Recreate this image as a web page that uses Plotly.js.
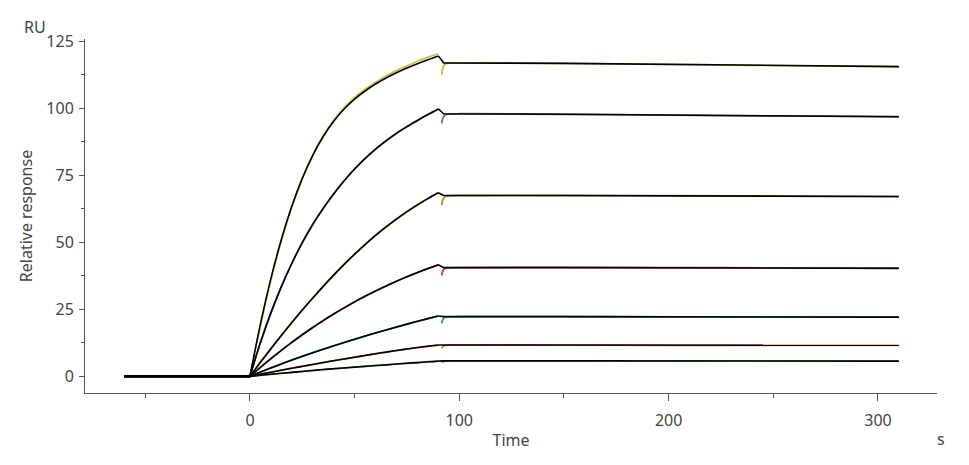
<!DOCTYPE html>
<html>
<head>
<meta charset="utf-8">
<script src="https://cdn.plot.ly/plotly-3.0.1.min.js"></script>
<style>html,body{margin:0;padding:0;background:#fff;}#chart{width:969px;height:465px;}</style>
</head>
<body>
<div id="chart"></div>
<script>
// Series colours (data curves), highest concentration first
const seriesColors = ['#c9c23e', '#7b5ea7', '#a68f2e', '#cf3f6e', '#2a9a72', '#e8704a', '#5cb85c'];

// Baseline times
const tBase = [-60, 0];

// Association phase times (s)
const tAssoc = [0, 5, 10, 15, 20, 25, 30, 35, 40, 45, 50, 55, 60, 65, 70, 75, 80, 85, 90];
const assocFit = [
  [0, 19.5, 36.5, 51.1, 63.5, 73.9, 82.5, 89.5, 95.2, 99.8, 103.5, 106.5, 109.1, 111.35, 113.3, 115.05, 116.65, 118.15, 119.6],
  [0, 12.6, 23.7, 33.5, 42.2, 49.9, 56.7, 62.7, 68.1, 73.0, 77.4, 81.3, 84.8, 87.9, 90.7, 93.2, 95.5, 97.7, 99.8],
  [0, 5.25, 10.35, 15.3, 20.1, 24.75, 29.25, 33.6, 37.8, 41.8, 45.6, 49.2, 52.6, 55.75, 58.7, 61.45, 64.0, 66.35, 68.5],
  [0, 3.36, 6.6, 9.72, 12.69, 15.53, 18.24, 20.81, 23.26, 25.58, 27.79, 29.88, 31.86, 33.73, 35.5, 37.17, 38.75, 40.23, 41.64],
  [0, 1.6, 3.15, 4.65, 6.1, 7.5, 8.85, 10.15, 11.4, 12.65, 13.85, 15.05, 16.2, 17.3, 18.4, 19.5, 20.55, 21.55, 22.55],
  [0, 0.8, 1.55, 2.3, 3.05, 3.75, 4.45, 5.15, 5.85, 6.5, 7.15, 7.8, 8.45, 9.05, 9.65, 10.2, 10.75, 11.25, 11.7],
  [0, 0.4, 0.8, 1.15, 1.5, 1.85, 2.2, 2.55, 2.85, 3.15, 3.45, 3.75, 4.05, 4.3, 4.6, 4.9, 5.15, 5.45, 5.7]
];
// Measured association curve of the top series (sits a little off its fit)
const yellowAssoc = [0, 19, 36, 50.6, 63.2, 73.8, 82.6, 89.8, 95.6, 100.3, 104.1, 107.2, 109.8, 112.1, 114.1, 115.9, 117.6, 119.1, 120.4];
// the other measured curves lie on their fits
const assocData = [yellowAssoc].concat(assocFit.slice(1));

// Dissociation phase (fit)
const tDissFit = [90, 92.5, 150, 200, 250, 310];
const dissFit = [
  [119.6, 117, 116.8, 116.4, 116.0, 115.6],
  [99.8, 98.0, 97.8, 97.5, 97.2, 96.9],
  [68.5, 67.5, 67.5, 67.4, 67.3, 67.1],
  [41.64, 40.6, 40.6, 40.5, 40.4, 40.3],
  [22.55, 22.3, 22.3, 22.2, 22.2, 22.1],
  [11.7, 11.7, 11.7, 11.6, 11.6, 11.6],
  [5.7, 5.8, 5.8, 5.8, 5.75, 5.7]
];

// Dissociation phase (measured data)
const tDissData = [91.6, 92, 92.6, 93.5, 95, 100, 150, 200, 250, 310];
const dissData = [
  [112.5, 114.5, 115.9, 116.6, 116.9, 117, 116.8, 116.4, 116.0, 115.6],
  [94.4, 96.0, 97.1, 97.7, 97.9, 98, 97.8, 97.5, 97.2, 96.9],
  [63.9, 65.5, 66.6, 67.2, 67.4, 67.5, 67.5, 67.4, 67.3, 67.1],
  [37.6, 39.0, 39.9, 40.4, 40.5, 40.6, 40.7, 40.6, 40.5, 40.4],
  [19.8, 21.0, 21.8, 22.1, 22.2, 22.3, 22.3, 22.2, 22.2, 22.1],
  [10.4, 11.0, 11.4, 11.6, 11.7, 11.7, 11.7, 11.6, 11.6, 11.6],
  [5.1, 5.4, 5.6, 5.7, 5.8, 5.8, 5.8, 5.8, 5.75, 5.7]
];

// Axis ticks
const xTickVals = [0, 100, 200, 300];
const xMinorVals = [-50, 50, 150, 250];
const yTickVals = [0, 25, 50, 75, 100, 125];
const yMinorVals = [12.5, 37.5, 62.5, 87.5, 112.5];

const traces = [];
const zeros = tBase.map(() => 0);
// data curves first
seriesColors.forEach((c, i) => {
  traces.push({x: tBase, y: zeros, mode: 'lines', line: {color: c, width: 1.8}, hoverinfo: 'skip', showlegend: false});
  traces.push({x: tAssoc, y: assocData[i], mode: 'lines', line: {color: c, width: 1.8, shape: 'spline', smoothing: 1}, showlegend: false});
  traces.push({x: tDissData, y: dissData[i], mode: 'lines', line: {color: c, width: 1.8, shape: 'spline', smoothing: 0.8}, showlegend: false});
});
// fitted curves on top
assocFit.forEach((row, i) => {
  traces.push({x: tBase, y: zeros, mode: 'lines', line: {color: '#000', width: 1.7}, hoverinfo: 'skip', showlegend: false});
  traces.push({x: tAssoc, y: row, mode: 'lines', line: {color: '#000', width: 1.6, shape: 'spline', smoothing: 1}, showlegend: false});
  traces.push({x: tDissFit, y: dissFit[i], mode: 'lines', line: {color: '#000', width: 1.6}, showlegend: false});
});

const axisFont = {family: 'Noto Sans, sans-serif', size: 16, color: '#444'};
const layout = {
  width: 969, height: 465,
  margin: {l: 85, r: 32, t: 39, b: 72},
  paper_bgcolor: '#fff', plot_bgcolor: '#fff',
  font: axisFont,
  showlegend: false,
  xaxis: {
    range: [-78.8, 328.2], showgrid: false, zeroline: false,
    showline: true, linecolor: '#555', linewidth: 1,
    ticks: 'outside', ticklen: 7, tickcolor: '#555', tickwidth: 1,
    tickmode: 'array', tickvals: xTickVals, ticktext: xTickVals.map(String),
    minor: {tickmode: 'array', tickvals: xMinorVals, ticks: 'outside', ticklen: 4, tickcolor: '#555', tickwidth: 1},
    tickfont: axisFont, ticklabelstandoff: 6,
    title: {text: 'Time', font: axisFont, standoff: 4}
  },
  yaxis: {
    range: [-6.2, 125.9], showgrid: false, zeroline: false,
    showline: true, linecolor: '#555', linewidth: 1,
    ticks: 'outside', ticklen: 5, tickcolor: '#555', tickwidth: 1,
    tickmode: 'array', tickvals: yTickVals, ticktext: yTickVals.map(String),
    minor: {tickmode: 'array', tickvals: yMinorVals, ticks: 'outside', ticklen: 3, tickcolor: '#555', tickwidth: 1},
    tickfont: axisFont, ticklabelstandoff: 2,
    title: {text: 'Relative response', font: axisFont, standoff: 9}
  },
  annotations: [
    {text: 'RU', xref: 'paper', yref: 'paper', x: -0.059, y: 1.034, showarrow: false, xanchor: 'center', yanchor: 'middle', font: axisFont},
    {text: 's', xref: 'paper', yref: 'paper', x: 1.005, y: -0.13, showarrow: false, xanchor: 'center', yanchor: 'middle', font: axisFont}
  ]
};

Plotly.newPlot('chart', traces, layout, {displayModeBar: false, staticPlot: true});
</script>
</body>
</html>
